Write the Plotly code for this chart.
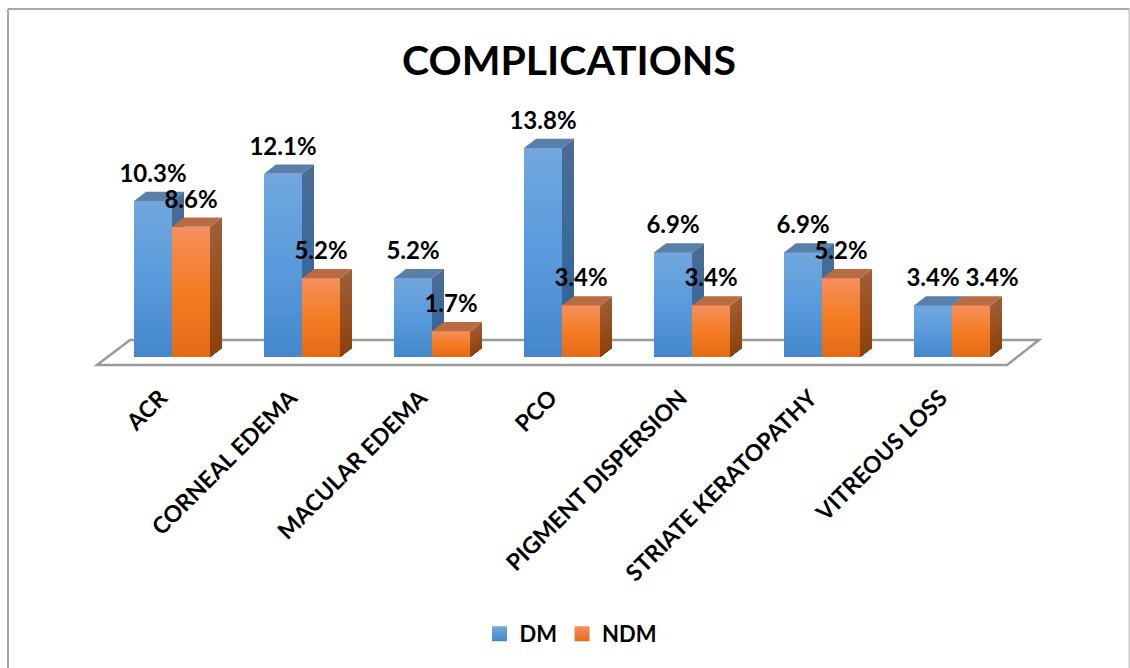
import numpy as np
import plotly.graph_objects as go

# Complication rates (%) by diabetic status
categories = ["ACR", "CORNEAL EDEMA", "MACULAR EDEMA", "PCO",
              "PIGMENT DISPERSION", "STRIATE KERATOPATHY", "VITREOUS LOSS"]
dm_values = [10.3, 12.1, 5.2, 13.8, 6.9, 6.9, 3.4]
ndm_values = [8.6, 5.2, 1.7, 3.4, 3.4, 5.2, 3.4]

W, H = 1130, 668
AXIS_BOTTOM_PX = 375
PX_PER_CAT = 130        # horizontal pixels per category step
PX_PER_UNIT = 15.15     # vertical pixels per percentage point
ORIGIN_X_PX = 172       # pixel position of category 0
ORIGIN_Y_PX = 357       # pixel position of value 0

BAR_W = 38 / PX_PER_CAT
DEPTH_X = 12 / PX_PER_CAT
DEPTH_Y = 9.2 / PX_PER_UNIT
BANDS = 30
SIDE_BANDS = 16
FONT = "Lato"


def px_x(p):
    return (p - ORIGIN_X_PX) / PX_PER_CAT


def px_y(p):
    return (ORIGIN_Y_PX - p) / PX_PER_UNIT


def hex_rgb(h):
    return np.array([int(h[i:i + 2], 16) for i in (1, 3, 5)], dtype=float)


def ramp(stops, n):
    """Colours along a top-to-bottom gradient with evenly spaced stops."""
    pos = np.linspace(0, 1, len(stops))
    rgb = np.array([hex_rgb(s) for s in stops])
    out = []
    for t in (np.arange(n) + 0.5) / n:
        c = [np.interp(t, pos, rgb[:, k]) for k in range(3)]
        out.append("rgb(%d,%d,%d)" % tuple(c))
    return out


STYLE = {
    "DM": dict(front=["#72a8de", "#5a9bdd", "#4587cc"],
               side=["#4a6d97", "#3c6a9c", "#2e5f93"], top="#5a80aa"),
    "NDM": dict(front=["#f5905f", "#f67c24", "#e56a16"],
                side=["#9e5f36", "#99501e", "#8c420e"], top="#b96c44"),
}


def add_series(fig, name, values, offset, xa, ya):
    st = STYLE[name]
    x = np.arange(len(values))

    # Front faces: each column is a stack of thin bars forming the gradient
    colours = ramp(st["front"], BANDS)
    xs, bases, heights, fills = [], [], [], []
    for xi, v in zip(x, values):
        step = v / BANDS
        for k in range(BANDS):
            xs.append(xi)
            bases.append(v - (k + 1) * step)
            heights.append(step)
            fills.append(colours[k])
    fig.add_trace(go.Bar(x=xs, y=heights, base=bases, width=BAR_W, offset=offset,
                         marker=dict(color=fills, line=dict(width=0)),
                         showlegend=False, hoverinfo="skip", xaxis=xa, yaxis=ya))

    # Side faces: nested polygons painted top-down so each band covers the seam
    side_colours = ramp(st["side"], SIDE_BANDS)
    for k in range(SIDE_BANDS):
        px, py = [], []
        for xi, v in zip(x, values):
            r = xi + offset + BAR_W
            hi = v * (1 - k / SIDE_BANDS)
            px += [r, r + DEPTH_X, r + DEPTH_X, r, r, None]
            py += [0, DEPTH_Y, hi + DEPTH_Y, hi, 0, None]
        fig.add_trace(go.Scatter(x=px, y=py, mode="lines", fill="toself",
                                 fillcolor=side_colours[k], line=dict(width=0),
                                 showlegend=False, hoverinfo="skip",
                                 xaxis=xa, yaxis=ya))

    # Top faces
    px, py = [], []
    for xi, v in zip(x, values):
        l = xi + offset
        r = l + BAR_W
        px += [l, r, r + DEPTH_X, l + DEPTH_X, l, None]
        py += [v, v, v + DEPTH_Y, v + DEPTH_Y, v, None]
    fig.add_trace(go.Scatter(x=px, y=py, mode="lines", fill="toself",
                             fillcolor=st["top"], line=dict(width=0),
                             showlegend=False, hoverinfo="skip",
                             xaxis=xa, yaxis=ya))


fig = go.Figure()
add_series(fig, "DM", dm_values, -BAR_W, "x", "y")
add_series(fig, "NDM", ndm_values, 0, "x2", "y2")

# Value labels sit above each column, centred on its front face;
# the last NDM label is nudged right so it clears its DM neighbour
LABEL_LIFT = 25 / PX_PER_UNIT
positions = np.arange(len(categories))
ndm_label_x = positions + BAR_W / 2
ndm_label_x[-1] += 21 / PX_PER_CAT
for vals, label_x in ((dm_values, positions - BAR_W / 2), (ndm_values, ndm_label_x)):
    fig.add_trace(go.Scatter(
        x=label_x, y=np.array(vals) + LABEL_LIFT, mode="text",
        text=[f"{v:.1f}%" for v in vals], textposition="middle center",
        textfont=dict(family=FONT, size=24, color="#000000", weight=700),
        cliponaxis=False, showlegend=False, hoverinfo="skip",
        xaxis="x2", yaxis="y2"))

# Legend keys
for name, end in (("DM", "#4587cc"), ("NDM", "#e56a16")):
    fig.add_trace(go.Scatter(
        x=[None], y=[None], mode="markers", name=name,
        marker=dict(symbol="square", size=15, color=STYLE[name]["front"][0],
                    gradient=dict(type="vertical", color=end)),
        xaxis="x2", yaxis="y2"))

x_range = [px_x(0), px_x(W)]
y_range = [px_y(AXIS_BOTTOM_PX), px_y(0)]


def paper_y(p):
    return 1 - p / AXIS_BOTTOM_PX


# Floor parallelogram under the columns
floor_front, floor_back = px_y(365), px_y(340)
floor_path = (f"M{px_x(97)},{floor_front} L{px_x(1007)},{floor_front} "
              f"L{px_x(1039)},{floor_back} L{px_x(130)},{floor_back} Z")

TICK_SHIFT = -11.5 / PX_PER_CAT

fig.update_layout(
    width=W, height=H, autosize=False,
    margin=dict(l=0, r=0, t=0, b=H - AXIS_BOTTOM_PX, pad=0),
    paper_bgcolor="#ffffff", plot_bgcolor="#ffffff",
    barmode="overlay", bargap=0,
    font=dict(family=FONT, color="#000000"),
    title=dict(text="COMPLICATIONS", x=569 / W, xanchor="center",
               y=1 - 61 / H, yanchor="middle",
               font=dict(family=FONT, size=41, color="#000000", weight=700)),
    xaxis=dict(range=x_range, tickmode="array", tickvals=list(positions + TICK_SHIFT),
               ticktext=categories, tickangle=-45, ticks="", ticklabelstandoff=4,
               tickfont=dict(family=FONT, size=23, color="#000000", weight=700),
               showgrid=False, zeroline=False, showline=False),
    yaxis=dict(range=y_range, visible=False, showgrid=False, zeroline=False),
    xaxis2=dict(range=x_range, overlaying="x", visible=False, anchor="y2"),
    yaxis2=dict(range=y_range, overlaying="y", visible=False, anchor="x2"),
    legend=dict(orientation="h", x=571 / W, xanchor="center", y=paper_y(634),
                yanchor="middle", yref="paper",
                font=dict(family=FONT, size=22, color="#000000", weight=700),
                bgcolor="rgba(0,0,0,0)", traceorder="normal"),
    shapes=[
        dict(type="path", path=floor_path, xref="x", yref="y", layer="below",
             fillcolor="#ffffff", line=dict(color="#9a9a9a", width=2.5)),
        dict(type="line", xref="paper", yref="paper", x0=8 / W, x1=8 / W,
             y0=paper_y(9), y1=paper_y(H), line=dict(color="#a8a8a8", width=2)),
        dict(type="line", xref="paper", yref="paper", x0=8 / W, x1=1129.5 / W,
             y0=paper_y(9), y1=paper_y(9), line=dict(color="#a8a8a8", width=2)),
        dict(type="line", xref="paper", yref="paper", x0=1129.5 / W, x1=1129.5 / W,
             y0=paper_y(9), y1=paper_y(H), line=dict(color="#c8c8c8", width=2)),
    ],
)

fig.write_html("out.html")
